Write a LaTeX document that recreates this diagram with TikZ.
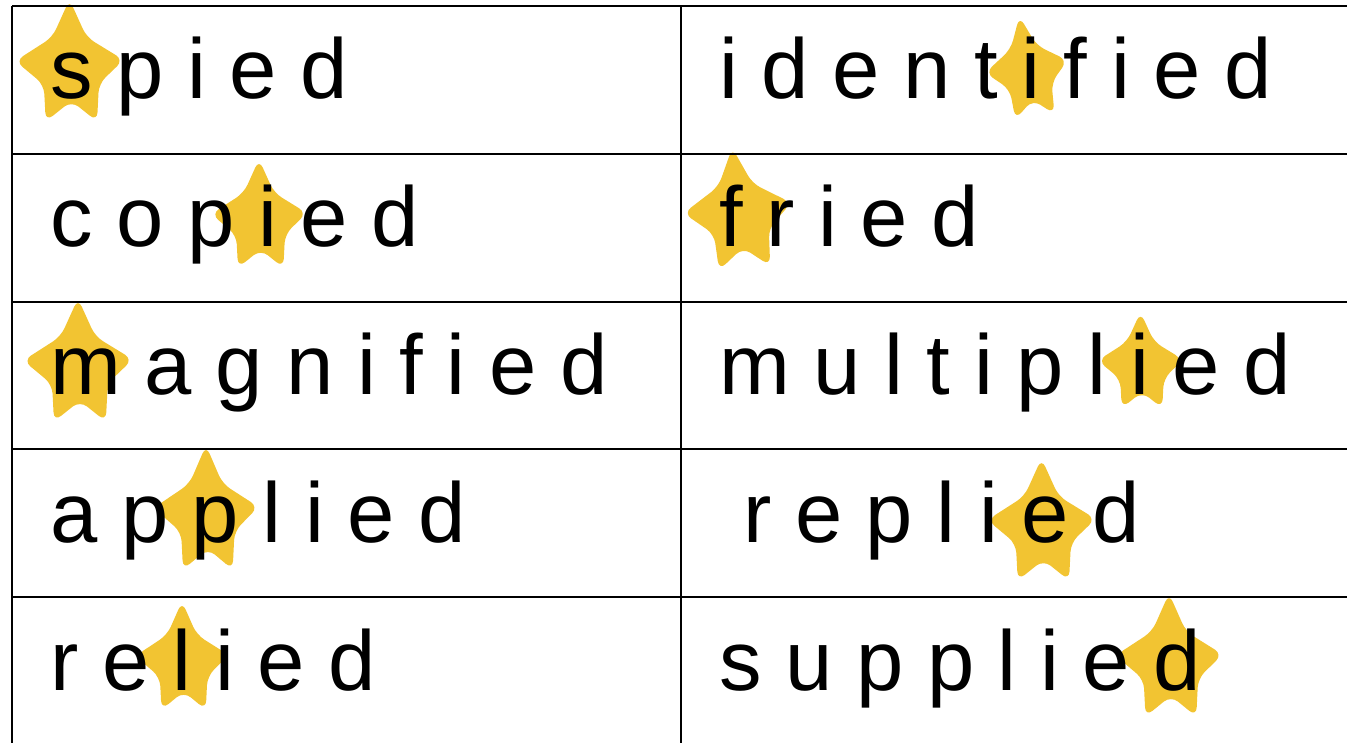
\documentclass[tikz,border=0pt]{standalone}
\usepackage{fontspec}
\setmainfont{Liberation Sans}
\definecolor{starfill}{RGB}{242,196,50}
\tikzset{
  starmark/.pic={
    \fill[starfill, rounded corners=9pt] (0,1.14) -- (0.36,0.44) -- (1.14,0.02) -- (0.62,-0.42)
      -- (0.58,-1.12) -- (0.04,-0.74) -- (-0.5,-1.12) -- (-0.54,-0.44) -- (-1.14,0)
      -- (-0.36,0.44) -- cycle;
  },
  wordtext/.style={anchor=base west, inner sep=0pt, font=\fontsize{85}{85}\selectfont}
}
\begin{document}
\begin{tikzpicture}[x=1pt,y=1pt]
\useasboundingbox (0,0) rectangle (1347,743);

% stars behind the letters
\pic[xscale=47.5,yscale=54] at (69.5,682) {starmark};
\pic[rotate=8,xscale=36.5,yscale=45] at (1026.5,676) {starmark};
\pic[xscale=42,yscale=48] at (259,529) {starmark};
\pic[rotate=5,xscale=47.5,yscale=53.5] at (737.5,534.5) {starmark};
\pic[xscale=48,yscale=54.5] at (78,382.5) {starmark};
\pic[xscale=37.5,yscale=42.5] at (1140.5,382.5) {starmark};
\pic[xscale=46,yscale=55] at (206,235) {starmark};
\pic[xscale=47.5,yscale=54] at (1041.5,223) {starmark};
\pic[xscale=41,yscale=48] at (182,87) {starmark};
\pic[xscale=47,yscale=54.5] at (1169,87.5) {starmark};

\draw[line width=2pt,shift={(12,-2)},xstep=669pt,ystep=147.8pt] (0,0) grid (1338,739);

\node[wordtext] (spied) at (50,644) {s p i e d};
\node[wordtext] (copied) at (50,496) {c o p i e d};
\node[wordtext] (magnified) at (50,348) {m a g n i f i e d};
\node[wordtext] (applied) at (50,200) {a p p l i e d};
\node[wordtext] (relied) at (50,52) {r e l i e d};

\node[wordtext] (identified) at (719,644) {i d e n t i f i e d};
\node[wordtext] (fried) at (719,496) {f r i e d};
\node[wordtext] (multiplied) at (719,348) {m u l t i p l i e d};
\node[wordtext] (replied) at (743,200) {r e p l i e d};
\node[wordtext] (supplied) at (719,52) {s u p p l i e d};
\end{tikzpicture}
\end{document}
